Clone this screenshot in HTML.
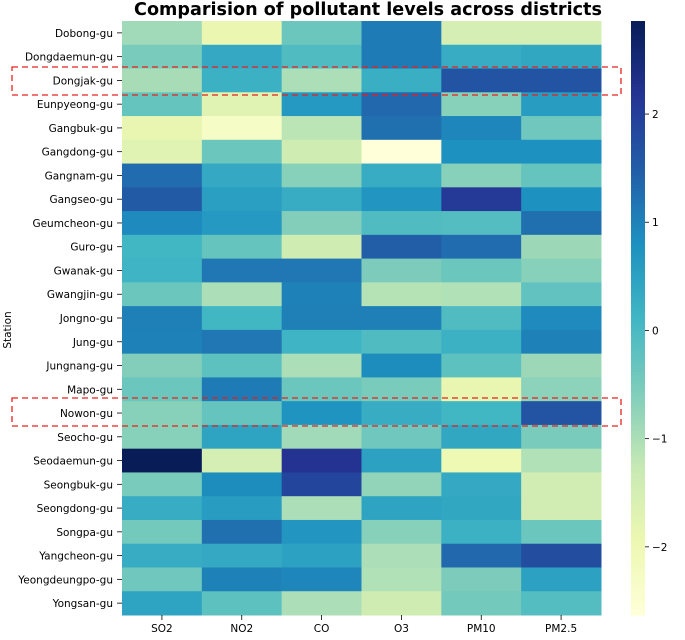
<!DOCTYPE html>
<html><head><meta charset="utf-8"><style>
body{margin:0;background:#fff;}
svg{font-family:"DejaVu Sans","Liberation Sans",sans-serif;}
</style></head><body>
<svg id="chart" width="685" height="635" xmlns="http://www.w3.org/2000/svg">
<text x="368" y="15" text-anchor="middle" font-size="17.6" font-weight="bold">Comparision of pollutant levels across districts</text>
<text transform="translate(11,330) rotate(-90)" text-anchor="middle" font-size="10.5">Station</text>
<g id="cells"></g>
<g id="ylabels"></g>
<g id="xlabels"></g>
<g id="cbar"></g>
<rect x="12" y="67" width="609" height="28" fill="none" stroke="#e8201c" stroke-width="1.3" stroke-dasharray="6,4"/>
<rect x="12" y="398" width="609" height="28" fill="none" stroke="#e8201c" stroke-width="1.3" stroke-dasharray="6,4"/>
</svg>
<script>
const stations=["Dobong-gu","Dongdaemun-gu","Dongjak-gu","Eunpyeong-gu","Gangbuk-gu","Gangdong-gu","Gangnam-gu","Gangseo-gu","Geumcheon-gu","Guro-gu","Gwanak-gu","Gwangjin-gu","Jongno-gu","Jung-gu","Jungnang-gu","Mapo-gu","Nowon-gu","Seocho-gu","Seodaemun-gu","Seongbuk-gu","Seongdong-gu","Songpa-gu","Yangcheon-gu","Yeongdeungpo-gu","Yongsan-gu"];
const pollutants=["SO2","NO2","CO","O3","PM10","PM2.5"];
const values=[
[-0.9,-1.9,-0.35,1.1,-1.5,-1.5],
[-0.5,0.35,-0.05,1.1,0.3,0.4],
[-0.95,0.2,-1.0,0.25,1.65,1.65],
[-0.3,-1.7,0.65,1.35,-0.65,0.6],
[-1.85,-2.3,-1.15,1.25,0.95,-0.4],
[-1.7,-0.35,-1.4,-2.63,0.8,0.8],
[1.3,0.35,-0.65,0.3,-0.65,-0.3],
[1.55,0.55,0.3,0.7,2.1,0.8],
[0.9,0.65,-0.6,-0.05,-0.1,1.25],
[0.1,-0.3,-1.4,1.5,1.3,-0.85],
[0.15,1.15,1.15,-0.55,-0.35,-0.65],
[-0.35,-1.0,1.0,-1.1,-1.05,-0.25],
[1.05,0.1,1.05,1.05,-0.05,0.9],
[1.0,1.15,0.15,-0.05,0.2,1.0],
[-0.6,-0.2,-1.0,0.85,-0.2,-0.85],
[-0.35,1.1,-0.35,-0.5,-1.85,-0.7],
[-0.65,-0.3,0.75,0.3,0.1,1.65],
[-0.65,0.45,-0.9,-0.4,0.4,-0.5],
[2.86,-1.5,2.2,0.5,-2.0,-1.05],
[-0.5,0.85,1.9,-0.75,0.35,-1.45],
[0.3,0.6,-1.0,0.45,0.4,-1.45],
[-0.45,1.25,0.7,-0.65,0.2,-0.35],
[0.3,0.35,0.5,-1.0,1.35,1.75],
[-0.4,1.0,0.95,-1.05,-0.55,0.5],
[0.45,-0.2,-1.0,-1.4,-0.45,-0.1]];
const cbarTicks=[-2,-1,0,1,2];
const vmin=-2.63, vmax=2.86;
const stops=["#ffffd9","#edf8b1","#c7e9b4","#7fcdbb","#41b6c4","#1d91c0","#225ea8","#253494","#081d58"];
function hex(h){return [1,3,5].map(i=>parseInt(h.substr(i,2),16));}
function color(v){let t=(v-vmin)/(vmax-vmin);t=Math.max(0,Math.min(1,t))*8;const i=Math.min(7,Math.floor(t)),f=t-i;const a=hex(stops[i]),b=hex(stops[i+1]);return "rgb("+a.map((c,k)=>Math.round(c+(b[k]-c)*f)).join(",")+")";}
const L=122,R=601,T=21,B=615;
const cw=(R-L)/pollutants.length, rh=(B-T)/stations.length;
const xs=j=>L+j*cw, ys=i=>T+i*rh;
const NS="http://www.w3.org/2000/svg";
function mk(tag,attrs,parent){const e=document.createElementNS(NS,tag);for(const k in attrs)e.setAttribute(k,attrs[k]);parent.appendChild(e);return e;}
const cells=document.getElementById('cells'),yl=document.getElementById('ylabels'),xl=document.getElementById('xlabels'),cb=document.getElementById('cbar');
values.forEach((row,i)=>row.forEach((v,j)=>{
 const r=mk('rect',{x:xs(j),y:ys(i),width:cw+0.5,height:rh+0.5,fill:color(v)},cells);
 
 
}));
stations.forEach((s,i)=>{
 const y=ys(i)+rh/2;
 const l=mk('line',{x1:117,x2:122,y1:y,y2:y,stroke:'#000','stroke-width':0.8},yl);
 
 
 const t=mk('text',{x:113,y:y+4,'text-anchor':'end','font-size':10.5},yl);t.textContent=s;
 
 
});
pollutants.forEach((p,j)=>{
 const x=xs(j)+cw/2;
 const l=mk('line',{x1:x,x2:x,y1:615,y2:620,stroke:'#000','stroke-width':0.8},xl);
 
 
 const t=mk('text',{x:x,y:632,'text-anchor':'middle','font-size':10.5},xl);t.textContent=p;
 
 
});
const CL=631,CR=645;
const cy=v=>B-(v-vmin)/(vmax-vmin)*(B-T);
for(let k=0;k<200;k++){const v0=vmin+(vmax-vmin)*k/200,v1=vmin+(vmax-vmin)*(k+1)/200;
 const r=mk('rect',{x:CL,y:cy(v1),width:CR-CL,height:cy(v0)-cy(v1)+0.5,fill:color((v0+v1)/2)},cb);
 
 
}
cbarTicks.forEach(v=>{
 const y=cy(v);
 const l=mk('line',{x1:CR,x2:CR+4,y1:y,y2:y,stroke:'#000','stroke-width':0.8},cb);
 
 
 const t=mk('text',{x:CR+7,y:y+4,'font-size':10.5},cb);t.textContent=v<0?'\u2212'+(-v):String(v);
 
 
});
</script>
</body></html>
